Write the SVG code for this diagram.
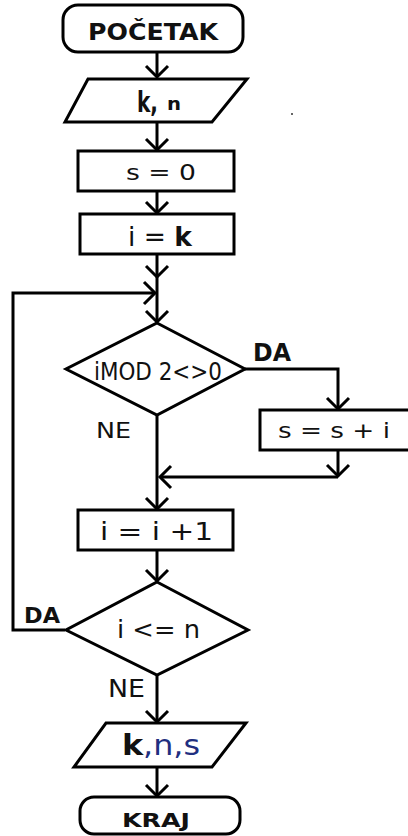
<svg xmlns="http://www.w3.org/2000/svg" width="408" height="836" viewBox="0 0 408 836">
<style>
.shape{fill:#fff;stroke:#000;stroke-width:3;stroke-linejoin:miter}
.conn{fill:none;stroke:#000;stroke-width:3}
text{font-family:"DejaVu Sans","Liberation Sans",sans-serif;fill:#111}
.b{font-weight:bold}
</style>
<defs>
<marker id="ah" markerUnits="userSpaceOnUse" markerWidth="30" markerHeight="30" viewBox="-15 -15 30 30" refX="0" refY="0" orient="auto">
<path d="M-11,-11 L0,0 L-11,11" fill="none" stroke="#000" stroke-width="3"/>
</marker>
</defs>
<rect width="408" height="836" fill="#fff"/>
<g id="connectors">
<line class="conn" x1="157" y1="53" x2="157" y2="77" marker-end="url(#ah)"/>
<line class="conn" x1="157" y1="123" x2="157" y2="150" marker-end="url(#ah)"/>
<line class="conn" x1="157" y1="191" x2="157" y2="213" marker-end="url(#ah)"/>
<line class="conn" x1="157" y1="254" x2="157" y2="277" marker-end="url(#ah)"/>
<line class="conn" x1="157" y1="277" x2="157" y2="322" marker-end="url(#ah)"/>
<polyline class="conn" points="65,630 13,630 13,293 155,293" marker-end="url(#ah)"/>
<polyline class="conn" points="245,369 338,369 338,409" marker-end="url(#ah)"/>
<line class="conn" x1="338" y1="450" x2="338" y2="476" marker-end="url(#ah)"/>
<polyline class="conn" points="338,477 160,477" marker-end="url(#ah)"/>
<line class="conn" x1="157" y1="415" x2="157" y2="509" marker-end="url(#ah)"/>
<line class="conn" x1="157" y1="550" x2="157" y2="581" marker-end="url(#ah)"/>
<line class="conn" x1="157" y1="675" x2="157" y2="722" marker-end="url(#ah)"/>
<line class="conn" x1="157" y1="768" x2="157" y2="796" marker-end="url(#ah)"/>
</g>
<g id="start">
<rect class="shape" x="63" y="5" width="180" height="47" rx="15" ry="15"/>
<text class="b" x="88" y="40" font-size="23" textLength="130" lengthAdjust="spacingAndGlyphs">POČETAK</text>
</g>
<g id="input">
<polygon class="shape" points="88,79 247,79 212,122 65,122"/>
<text class="b" x="137" y="112" font-size="29" textLength="21" lengthAdjust="spacingAndGlyphs">k,</text>
<text class="b" x="167" y="110" font-size="18" textLength="14" lengthAdjust="spacingAndGlyphs">n</text>
</g>
<g id="s0">
<rect class="shape" x="78" y="151" width="156" height="40"/>
<text x="126" y="180" font-size="22" textLength="70" lengthAdjust="spacingAndGlyphs">s = 0</text>
</g>
<g id="ik">
<rect class="shape" x="80" y="214" width="154" height="40"/>
<text x="128" y="246" font-size="26" textLength="64" lengthAdjust="spacingAndGlyphs">i = <tspan class="b">k</tspan></text>
</g>
<g id="cond1">
<polygon class="shape" points="157,323 245,369 157,415 66,369"/>
<text x="94" y="380" font-size="25" textLength="128" lengthAdjust="spacingAndGlyphs">iMOD 2&lt;&gt;0</text>
</g>
<text class="b" x="253" y="361" font-size="24" textLength="38" lengthAdjust="spacingAndGlyphs">DA</text>
<text x="96" y="438" font-size="22" textLength="35" lengthAdjust="spacingAndGlyphs">NE</text>
<g id="ssi">
<rect class="shape" x="260" y="410" width="160" height="40"/>
<text x="278" y="438" font-size="22" textLength="112" lengthAdjust="spacingAndGlyphs">s = s + i</text>
</g>
<g id="inc">
<rect class="shape" x="78" y="510" width="155" height="40"/>
<text x="100" y="540" font-size="24" textLength="113" lengthAdjust="spacingAndGlyphs">i =  i  +1</text>
</g>
<g id="cond2">
<polygon class="shape" points="157,582 248,630 157,675 66,630"/>
<text x="117" y="638" font-size="24" textLength="83" lengthAdjust="spacingAndGlyphs">i &lt;= n</text>
</g>
<text class="b" x="24" y="623" font-size="22" textLength="36" lengthAdjust="spacingAndGlyphs">DA</text>
<text x="108" y="697" font-size="24" textLength="37" lengthAdjust="spacingAndGlyphs">NE</text>
<g id="output">
<polygon class="shape" points="106,723 246,723 212,767 74,767"/>
<text x="122" y="755" font-size="28" textLength="78" lengthAdjust="spacingAndGlyphs"><tspan class="b">k</tspan><tspan fill="#1f2f80">,n,s</tspan></text>
</g>
<g id="end">
<rect class="shape" x="80" y="797" width="160" height="37" rx="14" ry="14"/>
<text class="b" x="122" y="827" font-size="20" textLength="68" lengthAdjust="spacingAndGlyphs">KRAJ</text>
</g>
<circle cx="292" cy="114" r="1" fill="#333"/>
</svg>
